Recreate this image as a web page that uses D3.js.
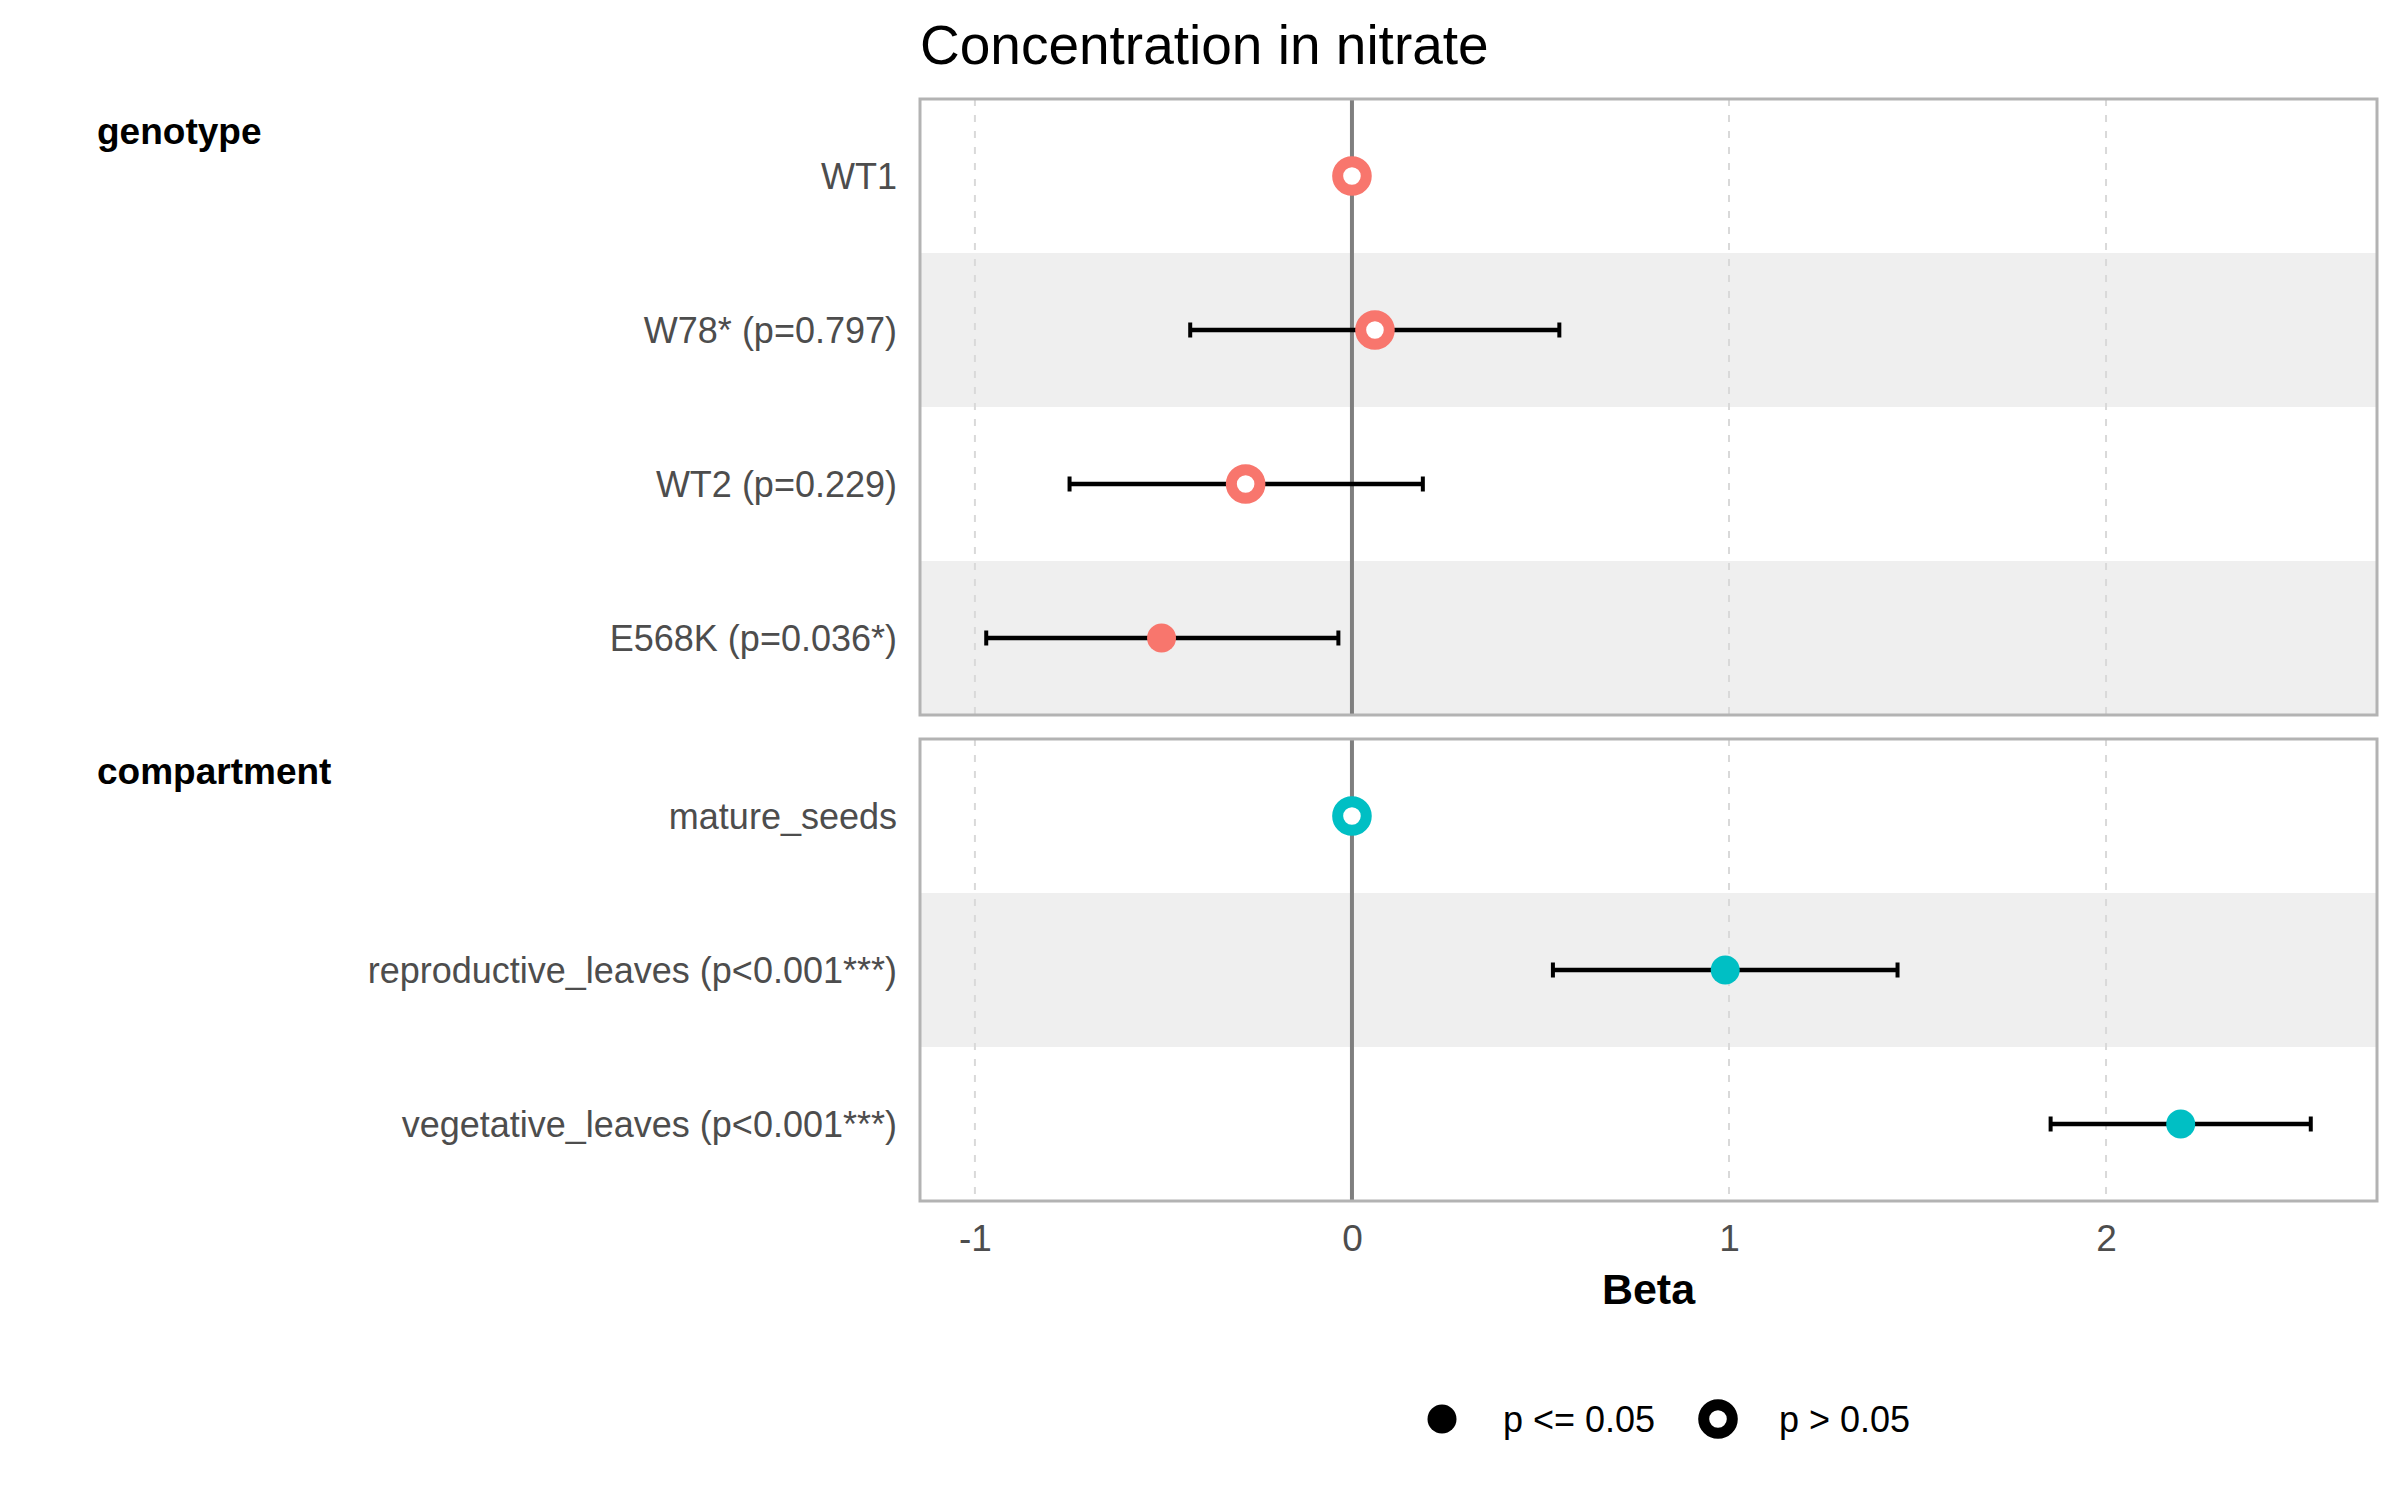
<!DOCTYPE html>
<html>
<head>
<meta charset="utf-8">
<script src="https://cdn.jsdelivr.net/npm/d3@7"></script>
<style>
  body { margin: 0; background: #fff; }
  text { font-family: "Liberation Sans", Arial, sans-serif; }
</style>
</head>
<body>
<div id="chart"></div>
<script>
const titleText = "Concentration in nitrate";
const xTitle = "Beta";
const xTicks = [-1, 0, 1, 2];

const genotypeLabels = ["WT1", "W78* (p=0.797)", "WT2 (p=0.229)", "E568K (p=0.036*)"];
const genotypeBeta = [0, 0.061, -0.282, -0.505];
const genotypeLow = [null, -0.429, -0.749, -0.970];
const genotypeHigh = [null, 0.550, 0.188, -0.036];
const genotypeSignif = [false, false, false, true];

const compartmentLabels = ["mature_seeds", "reproductive_leaves (p<0.001***)", "vegetative_leaves (p<0.001***)"];
const compartmentBeta = [0, 0.990, 2.198];
const compartmentLow = [null, 0.533, 1.853];
const compartmentHigh = [null, 1.447, 2.543];
const compartmentSignif = [false, true, true];

const groupNames = ["genotype", "compartment"];
const groupColors = ["#F8766D", "#00BFC4"];
const legendLabels = ["p <= 0.05", "p > 0.05"];

const W = 2400, H = 1500;
const panelLeft = 920, panelRight = 2377;
const rowH = 154;
const panelGap = 24;
const firstTop = 99;

const groups = [
  { name: groupNames[0], color: groupColors[0], labels: genotypeLabels, beta: genotypeBeta,
    low: genotypeLow, high: genotypeHigh, signif: genotypeSignif },
  { name: groupNames[1], color: groupColors[1], labels: compartmentLabels, beta: compartmentBeta,
    low: compartmentLow, high: compartmentHigh, signif: compartmentSignif }
];

// ggplot style 5% expansion around all the interval ends
const allVals = [];
groups.forEach(g => g.beta.forEach((b, i) => {
  allVals.push(b);
  if (g.low[i] !== null) allVals.push(g.low[i], g.high[i]);
}));
const [lo, hi] = d3.extent(allVals);
const pad = (hi - lo) * 0.05;

const x = d3.scaleLinear()
  .domain([lo - pad, hi + pad])
  .range([panelLeft, panelRight]);

const svg = d3.select("#chart").append("svg")
  .attr("width", W)
  .attr("height", H);

svg.append("text")
  .attr("x", panelLeft)
  .attr("y", 64)
  .attr("font-size", 55)
  .attr("fill", "#000")
  .text(titleText);

let panelTop = firstTop;
groups.forEach((g) => {
  const h = g.labels.length * rowH;
  const y = d3.scaleBand()
    .domain(g.labels)
    .range([panelTop, panelTop + h]);

  const panel = svg.append("g");

  // stripes on every second row
  panel.selectAll("rect.stripe")
    .data(g.labels.filter((d, i) => i % 2 === 1))
    .join("rect")
    .attr("class", "stripe")
    .attr("x", panelLeft)
    .attr("width", panelRight - panelLeft)
    .attr("y", d => y(d))
    .attr("height", y.bandwidth())
    .attr("fill", "#EFEFEF");

  panel.selectAll("line.grid")
    .data(xTicks)
    .join("line")
    .attr("class", "grid")
    .attr("x1", d => x(d)).attr("x2", d => x(d))
    .attr("y1", panelTop).attr("y2", panelTop + h)
    .attr("stroke", "#D9D9D9")
    .attr("stroke-width", 2)
    .attr("stroke-dasharray", "7,9");

  panel.append("line")
    .attr("x1", x(0)).attr("x2", x(0))
    .attr("y1", panelTop).attr("y2", panelTop + h)
    .attr("stroke", "#7F7F7F")
    .attr("stroke-width", 4);

  const rows = g.labels.map((lab, i) => ({
    lab, beta: g.beta[i], low: g.low[i], high: g.high[i], signif: g.signif[i]
  }));
  const bars = rows.filter(d => d.low !== null);

  panel.selectAll("line.err")
    .data(bars)
    .join("line")
    .attr("class", "err")
    .attr("x1", d => x(d.low)).attr("x2", d => x(d.high))
    .attr("y1", d => y(d.lab) + y.bandwidth() / 2)
    .attr("y2", d => y(d.lab) + y.bandwidth() / 2)
    .attr("stroke", "#000")
    .attr("stroke-width", 4.3);

  ["low", "high"].forEach(k => {
    panel.selectAll("line.cap-" + k)
      .data(bars)
      .join("line")
      .attr("class", "cap-" + k)
      .attr("x1", d => x(d[k])).attr("x2", d => x(d[k]))
      .attr("y1", d => y(d.lab) + y.bandwidth() / 2 - 7.5)
      .attr("y2", d => y(d.lab) + y.bandwidth() / 2 + 7.5)
      .attr("stroke", "#000")
      .attr("stroke-width", 4);
  });

  panel.selectAll("circle.pt")
    .data(rows)
    .join("circle")
    .attr("class", "pt")
    .attr("cx", d => x(d.beta))
    .attr("cy", d => y(d.lab) + y.bandwidth() / 2)
    .attr("r", d => d.signif ? 14.5 : 14.3)
    .attr("fill", d => d.signif ? g.color : "#fff")
    .attr("stroke", d => d.signif ? "none" : g.color)
    .attr("stroke-width", 11);

  panel.append("rect")
    .attr("x", panelLeft)
    .attr("y", panelTop)
    .attr("width", panelRight - panelLeft)
    .attr("height", h)
    .attr("fill", "none")
    .attr("stroke", "#B3B3B3")
    .attr("stroke-width", 3);

  // row labels
  const yAxis = d3.axisLeft(y).tickSize(0).tickPadding(0);
  const ag = svg.append("g")
    .attr("transform", `translate(897,0)`)
    .call(yAxis);
  ag.select(".domain").remove();
  ag.selectAll("text")
    .attr("font-size", 36)
    .attr("font-family", "'Liberation Sans', Arial, sans-serif")
    .attr("fill", "#4D4D4D")
    .attr("dy", "0.35em");

  svg.append("text")
    .attr("x", 97)
    .attr("y", panelTop + 33 + 12)
    .attr("font-size", 37)
    .attr("font-weight", "bold")
    .attr("fill", "#000")
    .text(g.name);

  panelTop += h + panelGap;
});

const panelBottom = panelTop - panelGap;

const xAxis = d3.axisBottom(x).tickValues(xTicks).tickSize(0).tickPadding(0)
  .tickFormat(d => String(d));
const xg = svg.append("g")
  .attr("transform", `translate(0,${panelBottom})`)
  .call(xAxis);
xg.select(".domain").remove();
xg.selectAll("text")
  .attr("font-size", 37)
  .attr("font-family", "'Liberation Sans', Arial, sans-serif")
  .attr("fill", "#4D4D4D")
  .attr("dy", null)
  .attr("y", 50);

svg.append("text")
  .attr("x", (panelLeft + panelRight) / 2)
  .attr("y", 1304)
  .attr("text-anchor", "middle")
  .attr("font-size", 43)
  .attr("font-weight", "bold")
  .attr("fill", "#000")
  .text(xTitle);

// legend
const legendY = 1419;
const legend = svg.append("g");
const legendX = [1442, 1718];
legendLabels.forEach((lab, i) => {
  legend.append("circle")
    .attr("cx", legendX[i])
    .attr("cy", legendY)
    .attr("r", i === 0 ? 14.5 : 14.3)
    .attr("fill", i === 0 ? "#000" : "#fff")
    .attr("stroke", i === 0 ? "none" : "#000")
    .attr("stroke-width", 11);
  legend.append("text")
    .attr("x", legendX[i] + 61)
    .attr("y", legendY)
    .attr("dy", "0.35em")
    .attr("font-size", 36)
    .attr("fill", "#000")
    .text(lab);
});
</script>
</body>
</html>
